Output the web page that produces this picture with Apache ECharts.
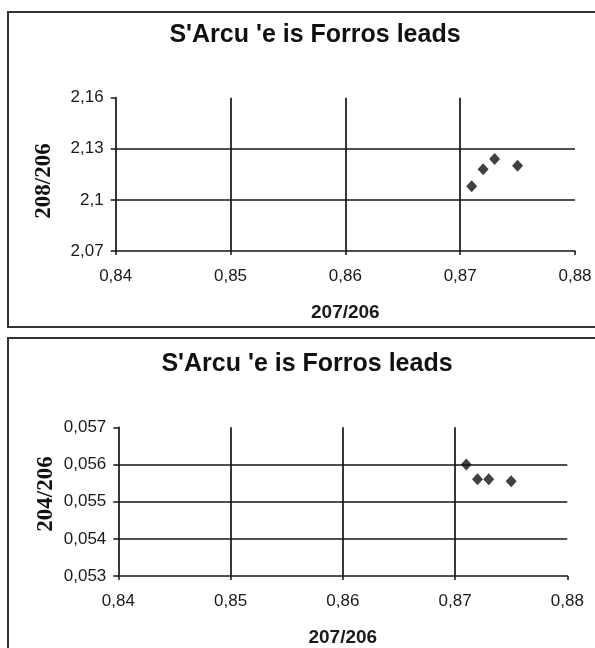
<!DOCTYPE html>
<html>
<head>
<meta charset="utf-8">
<script src="https://cdn.jsdelivr.net/npm/echarts@6/dist/echarts.min.js"></script>
<style>html,body{margin:0;padding:0;background:#fff;}#c{width:595px;height:648px;}</style>
</head>
<body>
<div id="c"></div>
<script>
const titleText = "S'Arcu 'e is Forros leads";
const xName = "207/206";
const yNameTop = "208/206";
const yNameBottom = "204/206";

const xTicks = [0.84, 0.85, 0.86, 0.87, 0.88];
const yTopTicks = [2.07, 2.10, 2.13, 2.16];
const yBottomTicks = [0.053, 0.054, 0.055, 0.056, 0.057];

const xTop = [0.871, 0.872, 0.873, 0.875];
const yTop = [2.108, 2.118, 2.124, 2.120];
const xBottom = [0.871, 0.872, 0.873, 0.875];
const yBottom = [0.0560, 0.0556, 0.0556, 0.05555];

const fmt = v => String(+(+v).toFixed(4)).replace('.', ',');
const lineCol = '#151515';
const txtCol = '#1a1a1a';

function xAxisFor(gridIndex) {
  return {
    type: 'value', gridIndex,
    min: xTicks[0], max: xTicks[xTicks.length - 1],
    interval: +(xTicks[1] - xTicks[0]).toFixed(4),
    name: xName, nameLocation: 'middle', nameGap: 52,
    nameTextStyle: { fontFamily: 'Liberation Sans, Arial', fontWeight: 'bold', fontSize: 19, color: txtCol },
    axisLine: { show: true, onZero: false, lineStyle: { color: lineCol, width: 1.7 } },
    axisTick: { show: true, inside: false, length: 4, lineStyle: { color: lineCol, width: 1.5 } },
    axisLabel: { margin: 17, fontFamily: 'Liberation Sans, Arial', fontSize: 17, color: txtCol, formatter: fmt },
    splitLine: { show: true, showMinLine: false, showMaxLine: false, lineStyle: { color: lineCol, width: 1.7 } }
  };
}
function yAxisFor(gridIndex, ticks) {
  return {
    type: 'value', gridIndex,
    min: ticks[0], max: ticks[ticks.length - 1],
    interval: +(ticks[1] - ticks[0]).toFixed(4),
    axisLine: { show: true, onZero: false, lineStyle: { color: lineCol, width: 1.7 } },
    axisTick: { show: true, inside: false, length: 5, lineStyle: { color: lineCol, width: 1.5 } },
    axisLabel: { margin: 12, fontFamily: 'Liberation Sans, Arial', fontSize: 17, color: txtCol, formatter: fmt },
    splitLine: { show: true, showMinLine: false, showMaxLine: false, lineStyle: { color: lineCol, width: 1.7 } }
  };
}

const chart = echarts.init(document.getElementById('c'), null, { renderer: 'canvas' });
chart.setOption({
  backgroundColor: '#fff',
  animation: false,
  title: [
    { text: titleText, left: 310, textAlign: 'center', top: 18,
      textStyle: { fontFamily: 'Liberation Sans, Arial', fontWeight: 'bold', fontSize: 25, color: '#111' } },
    { text: titleText, left: 302, textAlign: 'center', top: 347,
      textStyle: { fontFamily: 'Liberation Sans, Arial', fontWeight: 'bold', fontSize: 25, color: '#111' } }
  ],
  grid: [
    { left: 115.7, top: 97.7, right: 20, height: 153.3, containLabel: false },
    { left: 118.3, top: 427.3, right: 27.7, height: 152, containLabel: false }
  ],
  xAxis: [xAxisFor(0), xAxisFor(1)],
  yAxis: [yAxisFor(0, yTopTicks), yAxisFor(1, yBottomTicks)],
  series: [
    { type: 'scatter', xAxisIndex: 0, yAxisIndex: 0, symbol: 'diamond', symbolSize: [11, 12],
      itemStyle: { color: '#111' }, data: xTop.map((x, i) => [x, yTop[i]]) },
    { type: 'scatter', xAxisIndex: 1, yAxisIndex: 1, symbol: 'diamond', symbolSize: [11, 12],
      itemStyle: { color: '#111' }, data: xBottom.map((x, i) => [x, yBottom[i]]) }
  ],
  graphic: [
    { type: 'rect', shape: { x: 8, y: 12, width: 620, height: 315 }, style: { fill: 'none', stroke: '#333', lineWidth: 2 } },
    { type: 'rect', shape: { x: 8, y: 338, width: 620, height: 330 }, style: { fill: 'none', stroke: '#333', lineWidth: 2 } },
    { type: 'text', x: 44.5, y: 181, rotation: Math.PI / 2,
      style: { text: yNameTop, fontFamily: 'Liberation Serif, Times New Roman', fontWeight: 'bold', fontSize: 23, fill: '#111', textAlign: 'center', textVerticalAlign: 'middle' } },
    { type: 'text', x: 46.5, y: 494, rotation: Math.PI / 2,
      style: { text: yNameBottom, fontFamily: 'Liberation Serif, Times New Roman', fontWeight: 'bold', fontSize: 23, fill: '#111', textAlign: 'center', textVerticalAlign: 'middle' } }
  ]
});
</script>
</body>
</html>
